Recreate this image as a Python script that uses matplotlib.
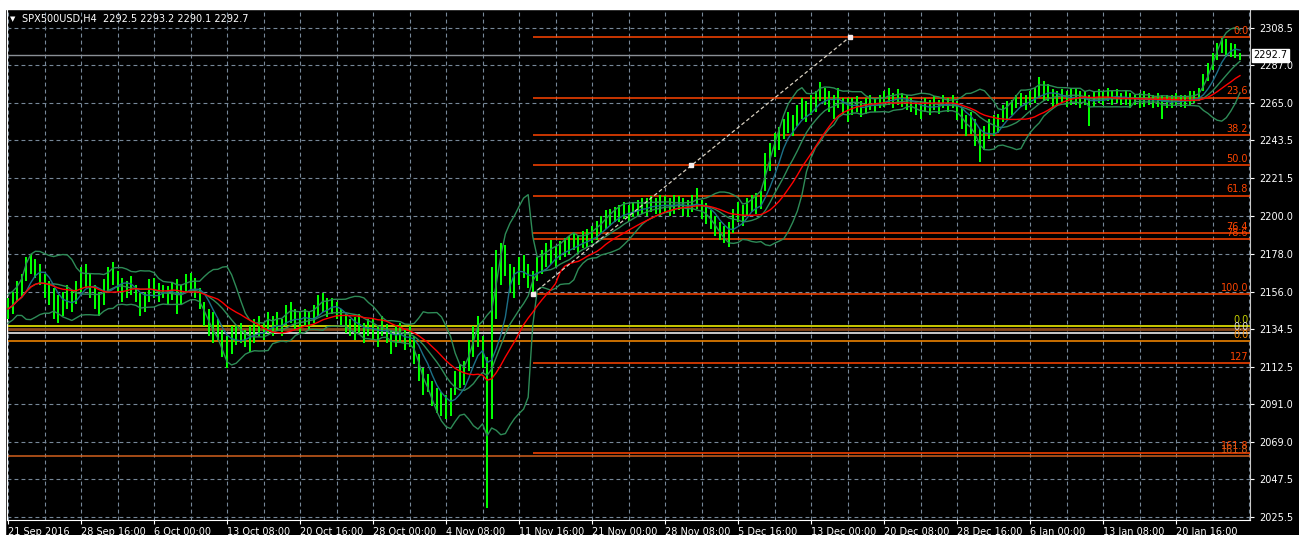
import matplotlib
matplotlib.use("Agg")
import matplotlib.pyplot as plt
import matplotlib.transforms as mtransforms
import numpy as np
import pandas as pd

# SPX500USD H4, each entry = two H4 bars, low/high
bar_low = [
    2140, 2143, 2150, 2153, 2162, 2166, 2164, 2160, 2152, 2148,
    2140, 2138, 2142, 2146, 2144, 2149, 2156, 2158, 2152, 2146,
    2142, 2148, 2155, 2160, 2156, 2150, 2152, 2154, 2150, 2142,
    2144, 2150, 2152, 2150, 2152, 2149, 2151, 2143, 2148, 2155,
    2156, 2152, 2146, 2136, 2130, 2126, 2128, 2118, 2112, 2120,
    2125, 2126, 2124, 2121, 2126, 2130, 2128, 2132, 2130, 2133,
    2130, 2136, 2138, 2134, 2132, 2136, 2134, 2138, 2142, 2144,
    2141, 2143, 2140, 2136, 2132, 2130, 2128, 2132, 2126, 2130,
    2128, 2124, 2130, 2126, 2120, 2124, 2127, 2122, 2124, 2114,
    2104, 2096, 2098, 2090, 2086, 2084, 2082, 2084, 2096, 2100,
    2102, 2110, 2118, 2124, 2112, 2031, 2082, 2140, 2160, 2165,
    2155, 2152, 2160, 2164, 2158, 2154, 2162, 2166, 2170, 2172,
    2170, 2174, 2176, 2178, 2180, 2178, 2181, 2182, 2184, 2186,
    2190, 2192, 2194, 2196, 2196, 2198, 2197, 2199, 2200, 2201,
    2200, 2202, 2201, 2200, 2202, 2200, 2201, 2203, 2200, 2199,
    2202, 2204, 2198, 2195, 2192, 2188, 2186, 2184, 2182, 2190,
    2196, 2194, 2200, 2202, 2201, 2204, 2214, 2226, 2234, 2238,
    2244, 2248, 2246, 2252, 2256, 2254, 2258, 2260, 2266, 2264,
    2260, 2256, 2262, 2258, 2254, 2258, 2260, 2257, 2259, 2261,
    2260, 2262, 2263, 2264, 2262, 2264, 2263, 2261, 2260, 2258,
    2256, 2260, 2258, 2261, 2259, 2262, 2260, 2262, 2255, 2250,
    2246, 2247, 2240, 2231, 2238, 2244, 2246, 2248, 2254, 2256,
    2258, 2262, 2263, 2261, 2264, 2265, 2268, 2266, 2266, 2263,
    2264, 2265, 2263, 2264, 2264, 2262, 2264, 2252, 2263, 2265,
    2264, 2266, 2264, 2265, 2264, 2264, 2262, 2264, 2262, 2263,
    2264, 2262, 2263, 2256, 2262, 2262, 2264, 2263, 2262, 2264,
    2265, 2266, 2272, 2278, 2284, 2290, 2294, 2292, 2292, 2291,
    2290,
]
bar_high = [
    2152, 2156, 2162, 2166, 2176, 2178, 2175, 2172, 2166, 2162,
    2158, 2154, 2156, 2160, 2157, 2162, 2170, 2172, 2166, 2160,
    2156, 2163, 2170, 2173, 2168, 2164, 2162, 2165, 2160, 2155,
    2156, 2163, 2164, 2161, 2160, 2159, 2161, 2163, 2160, 2166,
    2167, 2164, 2158, 2150, 2146, 2144, 2140, 2134, 2130, 2136,
    2136, 2138, 2134, 2136, 2140, 2142, 2138, 2144, 2142, 2144,
    2140, 2148, 2150, 2146, 2144, 2146, 2144, 2148, 2154, 2155,
    2152, 2152, 2150, 2146, 2143, 2140, 2141, 2143, 2138, 2140,
    2140, 2136, 2142, 2137, 2134, 2136, 2138, 2134, 2136, 2130,
    2120, 2112, 2108, 2104, 2100, 2098, 2096, 2100, 2110, 2114,
    2116, 2128, 2136, 2142, 2130, 2118, 2170, 2180, 2184, 2183,
    2172, 2170, 2176, 2177, 2172, 2168, 2176, 2180, 2184, 2186,
    2182, 2185, 2187, 2188, 2190, 2189, 2191, 2192, 2194, 2197,
    2200, 2203, 2204, 2205, 2206, 2208, 2206, 2208, 2209, 2210,
    2210, 2211, 2210, 2212, 2211, 2210, 2212, 2211, 2210, 2209,
    2212, 2216, 2209, 2207, 2203, 2200, 2196, 2194, 2196, 2204,
    2208, 2206, 2210, 2212, 2213, 2214, 2236, 2242, 2248, 2251,
    2256, 2260, 2258, 2264, 2268, 2266, 2270, 2272, 2277, 2274,
    2272, 2270, 2274, 2268, 2268, 2268, 2269, 2266, 2268, 2270,
    2268, 2270, 2272, 2274, 2271, 2273, 2271, 2270, 2268, 2266,
    2266, 2268, 2267, 2269, 2267, 2270, 2268, 2270, 2266, 2262,
    2258, 2260, 2256, 2250, 2252, 2256, 2258, 2259, 2264, 2266,
    2267, 2270, 2271, 2270, 2272, 2274, 2280, 2278, 2276, 2273,
    2272, 2273, 2272, 2273, 2273, 2272, 2272, 2270, 2272, 2273,
    2272, 2274, 2272, 2273, 2271, 2272, 2271, 2270, 2271, 2272,
    2271, 2270, 2271, 2270, 2270, 2270, 2271, 2270, 2270, 2272,
    2272, 2274, 2282, 2288, 2294, 2300, 2303, 2302, 2300, 2299,
    2294,
]

time_labels = ["21 Sep 2016", "28 Sep 16:00", "6 Oct 00:00", "13 Oct 08:00",
               "20 Oct 16:00", "28 Oct 00:00", "4 Nov 08:00", "11 Nov 16:00",
               "21 Nov 00:00", "28 Nov 08:00", "5 Dec 16:00", "13 Dec 00:00",
               "20 Dec 08:00", "28 Dec 16:00", "6 Jan 00:00", "13 Jan 08:00",
               "20 Jan 16:00"]
price_ticks = [2025.5, 2047.5, 2069.0, 2091.0, 2112.5, 2134.5, 2156.0,
               2178.0, 2200.0, 2221.5, 2243.5, 2265.0, 2287.0, 2308.5]

# fibonacci retracement (anchored on the 11 Nov low)
fib_low, fib_high = 2154.6, 2303.3
fib_start_bar, fib_end_bar = 115, 184.5
fib_ratios = [0.0, 23.6, 38.2, 50.0, 61.8, 76.4, 78.6, 100.0, 127.0, 161.8]
fib_names = ["0.0", "23.6", "38.2", "50.0", "61.8", "76.4", "78.6", "100.0", "127", "161.8"]

# other full-width levels left on the chart
extra_levels = [2136.0, 2134.3, 2132.0, 2127.4, 2060.8]
extra_colors = ["#ffff00", "#8b4a1c", "#ffffff", "#ff8c00", "#d2601e"]
extra_names = ["0.0", "", "0.0", "0.0", "161.8"]
extra_text_colors = ["#c8d200", "", "#d8d8d8", "#ff8c00", "#d2601e"]

last_price = 2292.7

plt.rcParams["font.family"] = "DejaVu Sans"
plt.rcParams["font.size"] = 7

low = np.array(bar_low, dtype=float)
high = np.array(bar_high, dtype=float)
x = np.arange(len(low))
mid = pd.Series((low + high) / 2)

fast_ma = mid.rolling(5, min_periods=1).mean()
bb_mid = mid.rolling(10, min_periods=1).mean()
bb_std = mid.rolling(10, min_periods=3).std(ddof=0).bfill()
bb_up = bb_mid + 2 * bb_std
bb_dn = bb_mid - 2 * bb_std
slow_ma = mid.rolling(16, min_periods=1).mean()

W, H = 1299, 535
fig = plt.figure(figsize=(W / 100, H / 100), dpi=100, facecolor="black")
fig.patches.append(plt.Rectangle((0, 1 - 9 / H), 1, 9 / H, transform=fig.transFigure,
                                 color="white", zorder=0))
fig.patches.append(plt.Rectangle((0, 0), 5 / W, 1, transform=fig.transFigure,
                                 color="white", zorder=0))
ax = fig.add_axes([7 / W, 15 / H, 1243 / W, 511 / H], facecolor="black")

ax.set_xlim(-0.22, 272.2)
ax.set_ylim(2023.8, 2319.5)

# grid
grid_kw = dict(color="#778899", lw=0.8, linestyle=(0, (3.5, 2.8)), zorder=1)
for gx in range(0, 273, 8):
    ax.axvline(gx, **grid_kw)
for gy in price_ticks:
    ax.axhline(gy, **grid_kw)

# horizontal levels across the whole chart
for lvl, c in zip(extra_levels, extra_colors):
    ax.axhline(lvl, color=c, lw=2.0 if c == "#8b4a1c" else 1.1, zorder=2)

# current price line
ax.axhline(last_price, color="#8a8f96", lw=1.0, zorder=2)

# fibonacci lines
fib_prices = [fib_high - r / 100 * (fib_high - fib_low) for r in fib_ratios]
ax.hlines(fib_prices, fib_start_bar, 272.2, color="#ff4500", lw=1.1, zorder=2)

# indicators
ax.plot(x, bb_up, color="#2e8b57", lw=1.0, zorder=4)
ax.plot(x, bb_dn, color="#2e8b57", lw=1.0, zorder=4)
ax.plot(x, bb_mid, color="#2e8b57", lw=1.0, zorder=4)
ax.plot(x, fast_ma, color="#1c7088", lw=1.0, zorder=4)
ax.plot(x, slow_ma, color="#ff0000", lw=1.0, zorder=5)

# bars
ax.vlines(x, low, high, color="#00ff00", lw=1.4, antialiased=False, zorder=3)

# fib anchor line
ax.plot([fib_start_bar, fib_end_bar], [fib_low, fib_high], color="#d8d0c0", lw=0.9,
        linestyle=(0, (3, 2)), zorder=6)
ax.plot([fib_start_bar, (fib_start_bar + fib_end_bar) / 2, fib_end_bar],
        [fib_low, (fib_low + fib_high) / 2, fib_high], "s", color="#f4ecec", ms=2.5, zorder=6)

# level labels at right edge
lbl_tr = mtransforms.blended_transform_factory(ax.transAxes, ax.transData)
for p, name in zip(fib_prices, fib_names):
    ax.text(0.9985, p + 0.8, name, transform=lbl_tr, ha="right", va="bottom",
            color="#ff4500", fontsize=7, zorder=7)
for lvl, name, tc in zip(extra_levels, extra_names, extra_text_colors):
    if name:
        ax.text(0.9985, lvl + 0.8, name, transform=lbl_tr, ha="right", va="bottom",
                color=tc, fontsize=7, zorder=7)

# axes styling
ax.spines["top"].set_visible(False)
ax.spines["left"].set_color("white")
ax.spines["bottom"].set_color("white")
ax.spines["right"].set_color("#c8c8c8")

ax.yaxis.tick_right()
ax.set_yticks(price_ticks)
ax.set_yticklabels([f"{v:.1f}" for v in price_ticks])
ax.set_xticks(range(0, 16 * len(time_labels), 16))
ax.set_xticklabels(time_labels, ha="left")
ax.tick_params(axis="both", colors="white", labelcolor="white", length=3, width=0.8,
               labelsize=7)
ax.tick_params(axis="x", pad=2)
ax.tick_params(axis="y", pad=4)

# price box for the last price
ax.text(1.0025, last_price, f"{last_price:.1f}", transform=lbl_tr, ha="left", va="center",
        color="black", fontsize=7, zorder=8, clip_on=False,
        bbox=dict(boxstyle="square,pad=0.15", fc="white", ec="white"))

# symbol header
fig.text(10 / W, 1 - 19 / H, "\u25bc", color="white", fontsize=5, va="center")
fig.text(22 / W, 1 - 19 / H, "SPX500USD,H4  2292.5 2293.2 2290.1 2292.7",
         color="white", fontsize=7, va="center")

fig.savefig("out.png", dpi=100, facecolor=fig.get_facecolor())
